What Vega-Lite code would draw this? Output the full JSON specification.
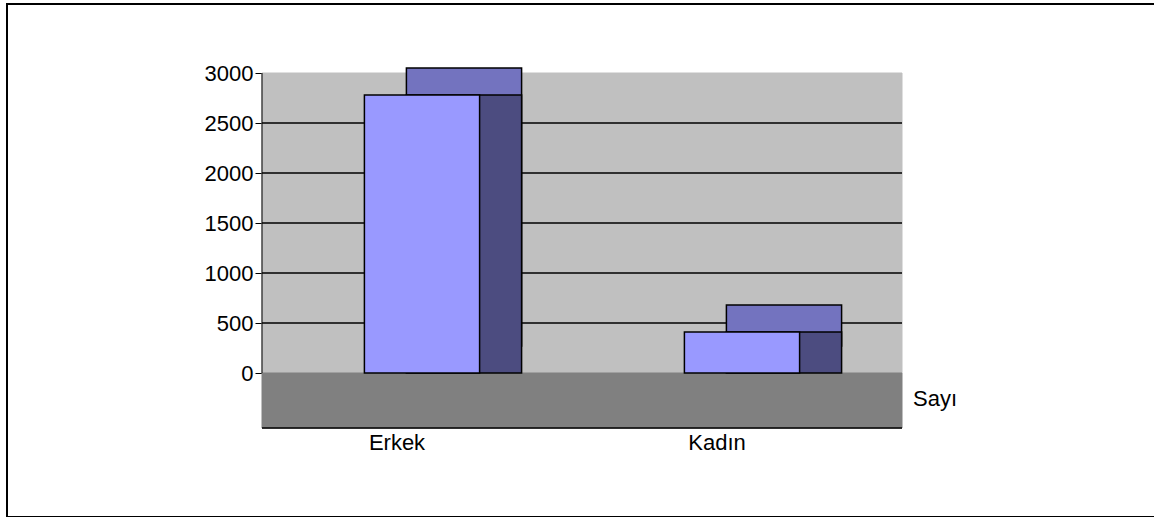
{
  "$schema": "https://vega.github.io/schema/vega-lite/v6.json",
  "width": 1150,
  "height": 513,
  "autosize": {"type": "none"},
  "padding": {"left": 7, "top": 4, "right": 0, "bottom": 0},
  "background": "white",
  "config": {
    "view": {"stroke": "black", "strokeWidth": 2},
    "font": "Liberation Sans",
    "axis": {"labelFont": "Liberation Sans", "labelFontSize": 22, "labelColor": "black", "title": null, "grid": false}
  },
  "datasets": {
    "counts": [
      {"cat": "Erkek", "series": "Sayı", "value": 2780},
      {"cat": "Kadın", "series": "Sayı", "value": 410}
    ],
    "lines": [
      {"cat": "Erkek", "v": 500}, {"cat": "Kadın", "v": 500},
      {"cat": "Erkek", "v": 1000}, {"cat": "Kadın", "v": 1000},
      {"cat": "Erkek", "v": 1500}, {"cat": "Kadın", "v": 1500},
      {"cat": "Erkek", "v": 2000}, {"cat": "Kadın", "v": 2000},
      {"cat": "Erkek", "v": 2500}, {"cat": "Kadın", "v": 2500},
      {"cat": "Erkek", "v": -550}, {"cat": "Kadın", "v": -550}
    ]
  },
  "layer": [
    {
      "data": {"name": "counts"},
      "mark": {"type": "rect", "fill": "#C0C0C0", "stroke": "#C0C0C0", "strokeWidth": 1},
      "encoding": {
        "x": {
          "field": "cat", "type": "nominal", "sort": ["Erkek", "Kadın"],
          "scale": {"paddingInner": 0, "paddingOuter": 0.796875, "align": 0.5},
          "axis": {"orient": "bottom", "offset": -89, "ticks": false, "domain": false, "labelPadding": 4, "labelOffset": -25, "labelAngle": 0}
        },
        "y": {
          "datum": 0, "type": "quantitative",
          "scale": {"domain": [-1440, 3690], "nice": false, "zero": false},
          "axis": {"values": [0, 500, 1000, 1500, 2000, 2500, 3000], "format": "d", "offset": -255, "domain": false, "ticks": true, "tickSize": 7, "tickColor": "black", "labelPadding": 2, "labelBaseline": "middle"}
        },
        "y2": {"datum": 3000}
      }
    },
    {
      "data": {"name": "counts"},
      "mark": {"type": "rect", "fill": "#808080", "stroke": "#808080", "strokeWidth": 1},
      "encoding": {
        "x": {"field": "cat", "type": "nominal"},
        "y": {"datum": -550, "type": "quantitative"},
        "y2": {"datum": 0}
      }
    },
    {
      "data": {"name": "lines"},
      "mark": {"type": "rect", "fillOpacity": 0, "stroke": "black", "strokeWidth": 1},
      "encoding": {
        "x": {"field": "cat", "type": "nominal"},
        "y": {"field": "v", "type": "quantitative"},
        "y2": {"field": "v"}
      }
    },
    {
      "data": {"name": "counts"},
      "transform": [{"filter": "datum.cat === 'Erkek'"}],
      "mark": {"type": "rule", "stroke": "black", "strokeWidth": 1},
      "encoding": {
        "x": {"field": "cat", "type": "nominal", "bandPosition": 0},
        "y": {"datum": 0, "type": "quantitative"},
        "y2": {"datum": 3000}
      }
    },
    {
      "data": {"name": "counts"},
      "mark": {"type": "bar", "width": {"band": 0.36}, "xOffset": 42, "yOffset": -27, "y2Offset": -27, "fill": "#7373BF", "stroke": "black", "strokeWidth": 1.5},
      "encoding": {
        "x": {"field": "cat", "type": "nominal"},
        "y": {"field": "value", "type": "quantitative"}
      }
    },
    {
      "data": {"name": "counts"},
      "mark": {"type": "bar", "width": {"band": 0.36}, "xOffset": 42, "fill": "#4C4C80", "stroke": "black", "strokeWidth": 1.5},
      "encoding": {
        "x": {"field": "cat", "type": "nominal"},
        "y": {"field": "value", "type": "quantitative"}
      }
    },
    {
      "data": {"name": "counts"},
      "mark": {"type": "bar", "width": {"band": 0.36}, "stroke": "black", "strokeWidth": 1.5},
      "encoding": {
        "x": {"field": "cat", "type": "nominal"},
        "y": {"field": "value", "type": "quantitative"},
        "color": {
          "field": "series", "type": "nominal",
          "scale": {"range": ["#9999FF"]},
          "legend": {"orient": "none", "legendX": 884, "legendY": 384, "title": null, "symbolOpacity": 0, "symbolSize": 0, "symbolStrokeWidth": 0, "labelOffset": 0, "padding": 0, "labelFontSize": 22, "labelFont": "Liberation Sans", "labelColor": "black"}
        }
      }
    }
  ]
}
